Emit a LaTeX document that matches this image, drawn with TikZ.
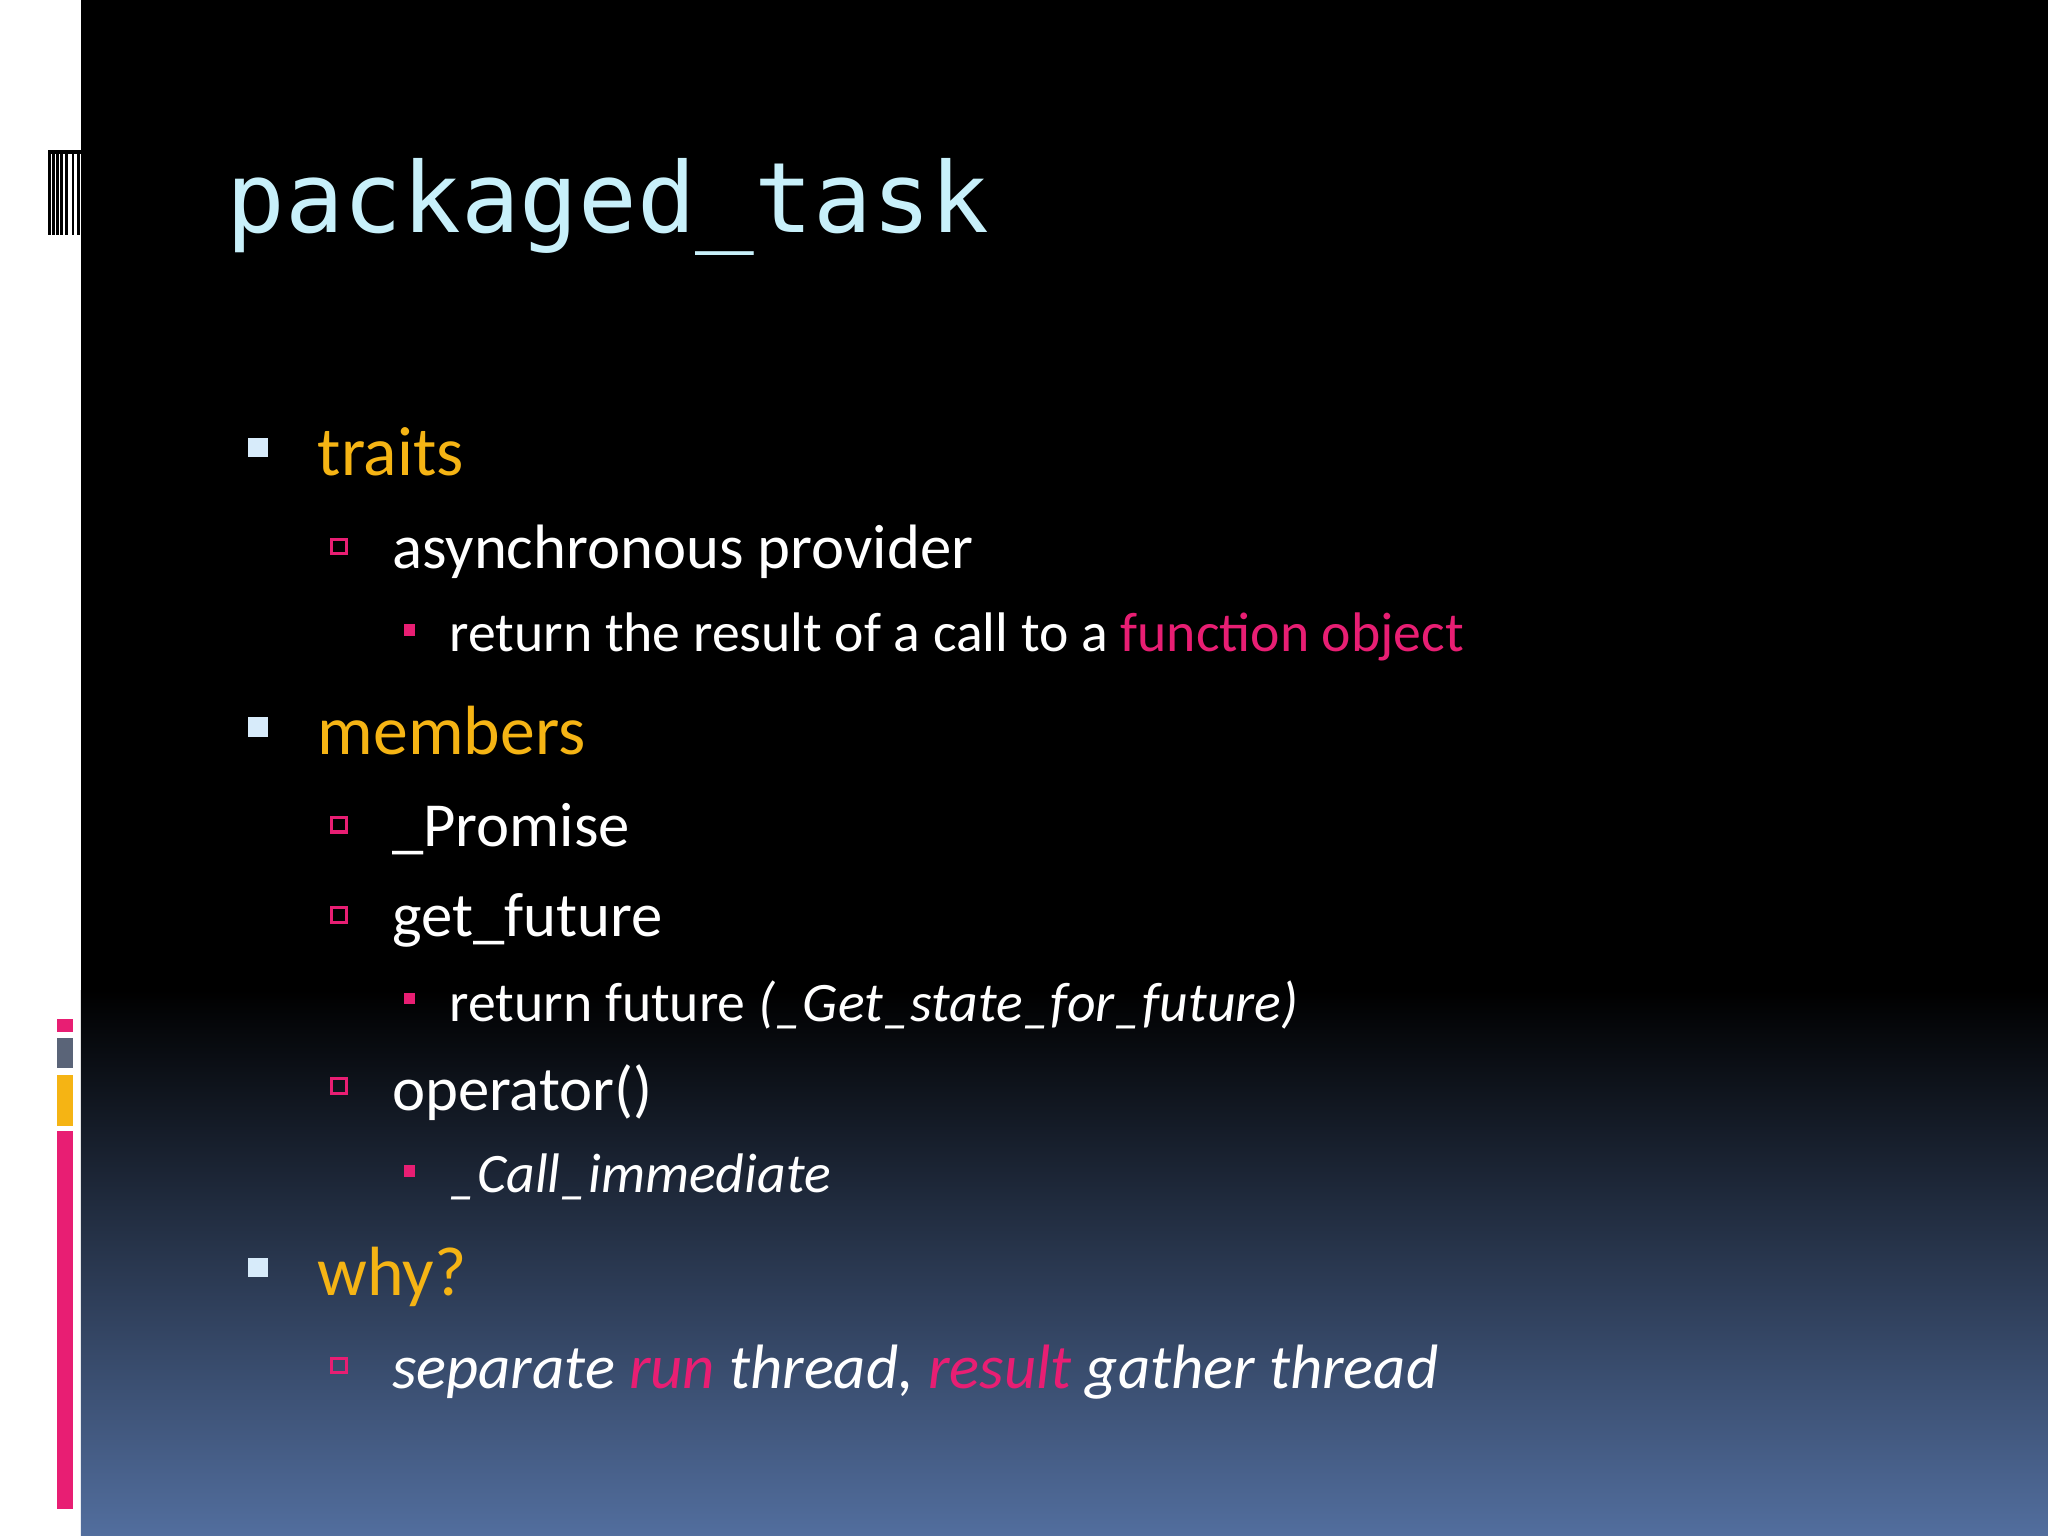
\documentclass[tikz,border=0pt]{standalone}
\usepackage{fontspec}
\setmainfont{Carlito}
\newfontfamily\titlefont{DejaVu Sans Mono}
\definecolor{ttl}{RGB}{200,240,250}
\definecolor{org}{RGB}{245,180,20}
\definecolor{pnk}{RGB}{232,30,115}
\definecolor{bot}{RGB}{82,110,158}
\definecolor{lb}{RGB}{215,235,250}
\definecolor{gr}{RGB}{90,100,120}
\tikzset{x=0.75pt,y=-0.75pt,
 l1/.style={anchor=base west,text=org,font=\fontsize{40}{48}\selectfont,inner sep=0},
 l2/.style={anchor=base west,text=white,font=\fontsize{36}{44}\selectfont,inner sep=0},
 l3/.style={anchor=base west,text=white,font=\fontsize{32}{40}\selectfont,inner sep=0},
 b1/.style={fill=lb,draw=none},
 b2/.style={draw=pnk,line width=1.8pt},
 b3/.style={fill=pnk,draw=none}}
\begin{document}
\begin{tikzpicture}
\useasboundingbox (0,0) rectangle (1568,1176);
\fill[white] (0,0) rectangle (1568,1176);
\fill[black] (62,0) rectangle (1568,760);
\shade[top color=black,bottom color=bot] (62,758) rectangle (1568,1176);
% left decorations
\foreach \xx in {37,40,43,46,50,55,59} \fill[black] (\xx,115) rectangle ++(2,65);
\fill[black] (37,115) rectangle (62,118);
\fill[pnk] (44,780) rectangle (56,790);
\fill[gr] (44,795) rectangle (56,818);
\fill[org] (44,823) rectangle (56,862);
\fill[pnk] (44,866) rectangle (56,1155);
\node[anchor=base west,text=ttl,font=\titlefont\fontsize{56}{60}\selectfont,inner sep=0] (title) at (173,178) {packaged\_task};
% level 1
\fill[b1] (190,335) rectangle (205,350);
\node[l1] (traits) at (243,364) {traits};
\fill[b1] (190,549) rectangle (205,564);
\node[l1] (members) at (243,578) {members};
\fill[b1] (190,963) rectangle (205,978);
\node[l1] (why) at (243,992) {why?};
% level 2
\draw[b2] (254,413) rectangle (265,424);
\node[l2] (async) at (300,435) {asynchronous provider};
\draw[b2] (254,626) rectangle (265,637);
\node[l2] (prom) at (300,648) {\_Promise};
\draw[b2] (254,695) rectangle (265,706);
\node[l2] (getf) at (300,717) {get\_future};
\draw[b2] (254,826) rectangle (265,837);
\node[l2] (op) at (300,850) {operator()};
\draw[b2] (254,1040) rectangle (265,1051);
\node[l2] (sep) at (300,1063) {\itshape separate \textcolor{pnk}{run} thread, \textcolor{pnk}{result} gather thread};
% level 3
\fill[b3] (309,478) rectangle (318,487);
\node[l3] (ret) at (344,499) {return the result of a call to a \textcolor{pnk}{function object}};
\fill[b3] (309,760) rectangle (318,769);
\node[l3] (retf) at (344,782) {return future \textit{(\_Get\_state\_for\_future)}};
\fill[b3] (309,892) rectangle (318,901);
\node[l3] (call) at (344,913) {\itshape \_Call\_immediate};
\end{tikzpicture}
\end{document}
